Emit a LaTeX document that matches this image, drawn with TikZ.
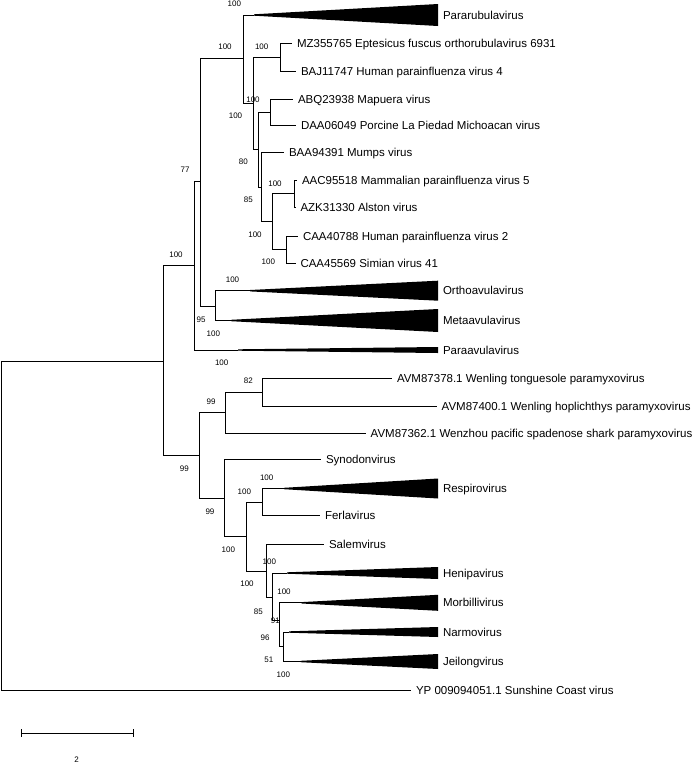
\documentclass[tikz,border=0pt]{standalone}
\usepackage{fontspec}
\setmainfont{Liberation Sans}
\usetikzlibrary{positioning}
\newcommand{\collapsed}[3]{\fill ([yshift=0.7pt]#1) -- ([yshift=#3]#2.west) -- ([yshift=-#3]#2.west) -- ([yshift=-0.7pt]#1) -- cycle;}
\tikzset{
  branch/.style={line width=0.9pt},
  taxon/.style={anchor=west, inner xsep=5pt, inner ysep=1pt, outer sep=0pt,
                text height=8.3pt, text depth=0pt, font=\fontsize{11.5}{13}\selectfont},
  boot/.style={inner sep=0pt, text height=5.8pt, text depth=0pt, font=\fontsize{8}{9}\selectfont}
}

\begin{document}
\begin{tikzpicture}[x=1pt,y=-1pt]
    \useasboundingbox (0,0) rectangle (696,764);
    % leaves
    \node[taxon] (MZ) at (292,43) {MZ355765 Eptesicus fuscus orthorubulavirus 6931};
    \node[taxon] (BAJ) at (296,71) {BAJ11747 Human parainfluenza virus 4};
    \node[taxon] (ABQ) at (293,99) {ABQ23938 Mapuera virus};
    \node[taxon] (DAA) at (296,125.5) {DAA06049 Porcine La Piedad Michoacan virus};
    \node[taxon] (BAA) at (284,152.7) {BAA94391 Mumps virus};
    \node[taxon] (AAC) at (297,180) {AAC95518 Mammalian parainfluenza virus 5};
    \node[taxon] (AZK) at (295.5,207) {AZK31330 Alston virus};
    \node[taxon] (CAAa) at (298,236) {CAA40788 Human parainfluenza virus 2};
    \node[taxon] (CAAb) at (295.5,263) {CAA45569 Simian virus 41};
    \node[taxon] (AVMa) at (392,378) {AVM87378.1 Wenling tonguesole paramyxovirus};
    \node[taxon] (AVMb) at (436.7,406.5) {AVM87400.1 Wenling hoplichthys paramyxovirus};
    \node[taxon] (AVMc) at (365.7,433) {AVM87362.1 Wenzhou pacific spadenose shark paramyxovirus};
    \node[taxon] (Syno) at (321,459) {Synodonvirus};
    \node[taxon] (Ferla) at (320,515) {Ferlavirus};
    \node[taxon] (Salem) at (324,544) {Salemvirus};
    \node[taxon] (YP) at (411,690) {YP 009094051.1 Sunshine Coast virus};
    % collapsed clades
    \node[taxon] (Pararub) at (438,15) {Pararubulavirus};
    \node[taxon] (Orthoav) at (438,290.7) {Orthoavulavirus};
    \node[taxon] (Metaav) at (438,320.5) {Metaavulavirus};
    \node[taxon] (Paraav) at (438,350) {Paraavulavirus};
    \node[taxon] (Respiro) at (438,488.5) {Respirovirus};
    \node[taxon] (Henipa) at (438,573) {Henipavirus};
    \node[taxon] (Morbilli) at (438,602.8) {Morbillivirus};
    \node[taxon] (Narmo) at (438,632) {Narmovirus};
    \node[taxon] (Jeilong) at (438,661.5) {Jeilongvirus};
    \coordinate (aPararub) at (254,15);
    \coordinate (aOrthoav) at (250,290.7);
    \coordinate (aMetaav) at (231,320.5);
    \coordinate (aParaav) at (238,350);
    \coordinate (aRespiro) at (284,488.5);
    \coordinate (aHenipa) at (287,573);
    \coordinate (aMorbilli) at (301.7,602.8);
    \coordinate (aNarmo) at (289,632);
    \coordinate (aJeilong) at (300.7,661.5);
    \collapsed{aPararub}{Pararub}{11pt}
    \collapsed{aOrthoav}{Orthoav}{10pt}
    \collapsed{aMetaav}{Metaav}{11.5pt}
    \collapsed{aParaav}{Paraav}{3pt}
    \collapsed{aRespiro}{Respiro}{10pt}
    \collapsed{aHenipa}{Henipa}{6pt}
    \collapsed{aMorbilli}{Morbilli}{8pt}
    \collapsed{aNarmo}{Narmo}{5pt}
    \collapsed{aJeilong}{Jeilong}{7.5pt}
    % internal nodes
    \coordinate (root) at (1.5,361);
    \coordinate (nAll) at (163,361);
    \coordinate (nUp) at (194.3,265.7);
    \coordinate (nAR) at (200,181.5);
    \coordinate (nRub) at (243,58);
    \coordinate (nB) at (253.3,103);
    \coordinate (nMZ) at (280,57);
    \coordinate (nC) at (258.3,149.5);
    \coordinate (nABQ) at (270.7,112.3);
    \coordinate (nD) at (261.7,187);
    \coordinate (nE) at (272.7,221.5);
    \coordinate (nAAC) at (294,193.5);
    \coordinate (nCAA) at (286.7,249.5);
    \coordinate (nAv) at (215,306);
    \coordinate (nLow) at (199,455);
    \coordinate (nW) at (225.7,412.3);
    \coordinate (nAVM) at (262.3,392.3);
    \coordinate (nS) at (224,498.3);
    \coordinate (nR) at (246.7,536.7);
    \coordinate (nRF) at (262,502.7);
    \coordinate (nSal) at (266.7,571.7);
    \coordinate (nH) at (272.3,597.3);
    \coordinate (nM) at (279,620.7);
    \coordinate (nNJ) at (283.3,646.7);
    % branches
    \draw[branch] (root) |- (nAll);   \draw[branch] (root) |- (YP.west);
    \draw[branch] (nAll) |- (nUp);    \draw[branch] (nAll) |- (nLow);
    \draw[branch] (nUp) |- (nAR);     \draw[branch] (nUp) |- (aParaav);
    \draw[branch] (nAR) |- (nRub);    \draw[branch] (nAR) |- (nAv);
    \draw[branch] (nRub) |- (aPararub); \draw[branch] (nRub) |- (nB);
    \draw[branch] (nB) |- (nMZ);      \draw[branch] (nB) |- (nC);
    \draw[branch] (nMZ) |- (MZ.west); \draw[branch] (nMZ) |- (BAJ.west);
    \draw[branch] (nC) |- (nABQ);     \draw[branch] (nC) |- (nD);
    \draw[branch] (nABQ) |- (ABQ.west); \draw[branch] (nABQ) |- (DAA.west);
    \draw[branch] (nD) |- (BAA.west); \draw[branch] (nD) |- (nE);
    \draw[branch] (nE) |- (nAAC);     \draw[branch] (nE) |- (nCAA);
    \draw[branch] (nAAC) |- (AAC.west); \draw[branch] (nAAC) |- (AZK.west);
    \draw[branch] (nCAA) |- (CAAa.west); \draw[branch] (nCAA) |- (CAAb.west);
    \draw[branch] (nAv) |- (aOrthoav); \draw[branch] (nAv) |- (aMetaav);
    \draw[branch] (nLow) |- (nW);     \draw[branch] (nLow) |- (nS);
    \draw[branch] (nW) |- (nAVM);     \draw[branch] (nW) |- (AVMc.west);
    \draw[branch] (nAVM) |- (AVMa.west); \draw[branch] (nAVM) |- (AVMb.west);
    \draw[branch] (nS) |- (Syno.west); \draw[branch] (nS) |- (nR);
    \draw[branch] (nR) |- (nRF);      \draw[branch] (nR) |- (nSal);
    \draw[branch] (nRF) |- (aRespiro); \draw[branch] (nRF) |- (Ferla.west);
    \draw[branch] (nSal) |- (Salem.west); \draw[branch] (nSal) |- (nH);
    \draw[branch] (nH) |- (aHenipa);  \draw[branch] (nH) |- (nM);
    \draw[branch] (nM) |- (aMorbilli); \draw[branch] (nM) |- (nNJ);
    \draw[branch] (nNJ) |- (aNarmo);  \draw[branch] (nNJ) |- (aJeilong);
    % bootstrap values
    \node[boot] (bs1) at (234.3,4) {100};
    \node[boot] (bs2) at (225,46.7) {100};
    \node[boot] (bs3) at (261.7,46.7) {100};
    \node[boot] (bs4) at (253,100) {100};
    \node[boot] (bs5) at (235.5,116) {100};
    \node[boot] (bs6) at (243.3,162) {80};
    \node[boot] (bs7) at (185,170) {77};
    \node[boot] (bs8) at (275,183.3) {100};
    \node[boot] (bs9) at (248.3,200) {85};
    \node[boot] (bs10) at (255,235) {100};
    \node[boot] (bs11) at (268.3,261.7) {100};
    \node[boot] (bs12) at (176,254.5) {100};
    \node[boot] (bs13) at (232.5,279.7) {100};
    \node[boot] (bs14) at (201,319.2) {95};
    \node[boot] (bs15) at (213.3,334) {100};
    \node[boot] (bs16) at (221.7,362.7) {100};
    \node[boot] (bs17) at (248.3,381) {82};
    \node[boot] (bs18) at (211,401.2) {99};
    \node[boot] (bs19) at (184.3,468.5) {99};
    \node[boot] (bs20) at (266.7,477.3) {100};
    \node[boot] (bs21) at (244.3,491.7) {100};
    \node[boot] (bs22) at (210,511.7) {99};
    \node[boot] (bs23) at (228.3,549.3) {100};
    \node[boot] (bs24) at (269.3,562) {100};
    \node[boot] (bs25) at (247,583.3) {100};
    \node[boot] (bs26) at (284,591.5) {100};
    \node[boot] (bs27) at (258.3,612) {85};
    \node[boot] (bs28) at (275.3,620.3) {91};
    \node[boot] (bs29) at (265,637.8) {96};
    \node[boot] (bs30) at (268.8,660) {51};
    \node[boot] (bs31) at (283.3,675) {100};
    % scale bar
    \coordinate (sbL) at (21.7,733.3);
    \coordinate (sbR) at (133.3,733.3);
    \draw[branch] (sbL) -- (sbR);
    \draw[branch] ([yshift=4pt]sbL) -- ([yshift=-4pt]sbL);
    \draw[branch] ([yshift=4pt]sbR) -- ([yshift=-4pt]sbR);
    \node[boot] (sbLabel) at (76.7,760) {2};
\end{tikzpicture}
\end{document}
